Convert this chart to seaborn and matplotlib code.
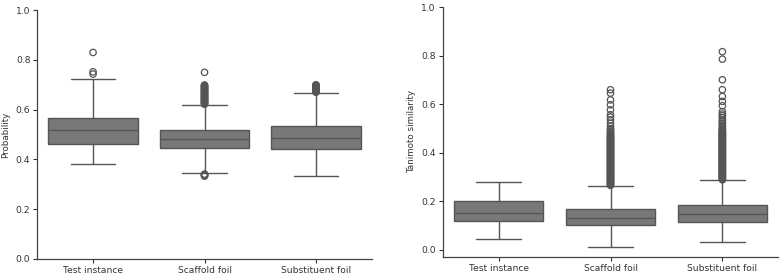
import pandas as pd
import matplotlib.pyplot as plt
import seaborn as sns

# categories
groups = ["Test instance", "Scaffold foil", "Substituent foil"]

# box values: lower whisker, Q1, median, Q3, upper whisker
prob_test = [0.380, 0.461, 0.517, 0.567, 0.722]
prob_scaffold = [0.345, 0.447, 0.482, 0.517, 0.618]
prob_subst = [0.335, 0.442, 0.485, 0.533, 0.667]

tani_test = [0.045, 0.118, 0.151, 0.202, 0.278]
tani_scaffold = [0.011, 0.101, 0.132, 0.167, 0.264]
tani_subst = [0.034, 0.115, 0.147, 0.184, 0.287]

# outliers (the dense columns are many overlapping points)
prob_test_out = [0.743, 0.752, 0.830]
prob_scaffold_out = [0.333, 0.335, 0.337, 0.339, 0.341,
                     0.622, 0.624, 0.627, 0.629, 0.632, 0.634, 0.637, 0.639,
                     0.642, 0.645, 0.647, 0.650, 0.652, 0.655, 0.658, 0.660,
                     0.663, 0.665, 0.668, 0.671, 0.673, 0.676, 0.679, 0.681,
                     0.684, 0.687, 0.689, 0.692, 0.694, 0.697, 0.699, 0.750]
prob_subst_out = [0.670, 0.672, 0.674, 0.676, 0.678, 0.680, 0.682, 0.684,
                  0.686, 0.688, 0.690, 0.692, 0.694, 0.696, 0.698, 0.700]

tani_test_out = []
tani_scaffold_out = [0.266, 0.269, 0.272, 0.275, 0.278, 0.281, 0.284, 0.287,
                     0.290, 0.293, 0.296, 0.299, 0.302, 0.305, 0.308, 0.311,
                     0.314, 0.317, 0.320, 0.323, 0.326, 0.329, 0.332, 0.335,
                     0.338, 0.341, 0.344, 0.347, 0.350, 0.353, 0.356, 0.359,
                     0.362, 0.365, 0.368, 0.371, 0.374, 0.377, 0.380, 0.383,
                     0.386, 0.389, 0.392, 0.395, 0.398, 0.401, 0.404, 0.407,
                     0.410, 0.413, 0.416, 0.419, 0.422, 0.425, 0.428, 0.431,
                     0.434, 0.437, 0.440, 0.443, 0.446, 0.449, 0.452, 0.455,
                     0.458, 0.461, 0.464, 0.467, 0.470, 0.474, 0.478, 0.482,
                     0.486, 0.490, 0.495, 0.500, 0.509, 0.522, 0.536, 0.547,
                     0.557, 0.577, 0.598, 0.618, 0.646, 0.660]
tani_subst_out = [0.289, 0.292, 0.295, 0.298, 0.301, 0.304, 0.307, 0.310,
                  0.313, 0.316, 0.319, 0.322, 0.325, 0.328, 0.331, 0.334,
                  0.337, 0.340, 0.343, 0.346, 0.349, 0.352, 0.355, 0.358,
                  0.361, 0.364, 0.367, 0.370, 0.373, 0.376, 0.379, 0.382,
                  0.385, 0.388, 0.391, 0.394, 0.397, 0.400, 0.403, 0.406,
                  0.409, 0.412, 0.415, 0.418, 0.421, 0.424, 0.427, 0.430,
                  0.433, 0.436, 0.439, 0.442, 0.445, 0.448, 0.451, 0.454,
                  0.457, 0.460, 0.463, 0.466, 0.469, 0.472, 0.475, 0.478,
                  0.481, 0.484, 0.487, 0.490, 0.494, 0.498, 0.503, 0.509,
                  0.515, 0.522, 0.529, 0.536, 0.545, 0.553, 0.560, 0.570,
                  0.594, 0.612, 0.632, 0.660, 0.701, 0.786, 0.817]


def long_df(lists):
    rows = []
    for g, vals in zip(groups, lists):
        rows += [(g, v) for v in vals]
    return pd.DataFrame(rows, columns=["group", "value"])


sns.set_theme(style="ticks")
plt.rcParams["font.family"] = ["DejaVu Sans"]

fig = plt.figure(figsize=(7.83, 2.79), dpi=100)
ax1 = fig.add_axes([0.0477, 0.0717, 0.427, 0.892])
ax2 = fig.add_axes([0.5654, 0.080, 0.4286, 0.894])

panels = [
    (ax1, [prob_test, prob_scaffold, prob_subst],
     [prob_test_out, prob_scaffold_out, prob_subst_out], "Probability", (0.0, 1.0)),
    (ax2, [tani_test, tani_scaffold, tani_subst],
     [tani_test_out, tani_scaffold_out, tani_subst_out], "Tanimoto similarity", (-0.028, 1.0)),
]

for ax, boxes, outs, ylabel, ylim in panels:
    sns.boxplot(data=long_df(boxes), x="group", y="value", order=groups, ax=ax,
                color="#787878", linecolor="#555555", linewidth=1.0,
                saturation=1, showfliers=False, width=0.8)
    sns.stripplot(data=long_df(outs), x="group", y="value", order=groups, ax=ax,
                  jitter=False, color="none", edgecolor="#555555",
                  linewidth=0.9, size=4.6)
    ax.set_ylim(*ylim)
    ax.set_yticks([0.0, 0.2, 0.4, 0.6, 0.8, 1.0])
    ax.set_xlabel("")
    ax.set_ylabel(ylabel, fontsize=6.3, color="#333333")
    ax.tick_params(labelsize=6.6, length=3, width=0.8, colors="#333333", pad=2)
    for s in ax.spines.values():
        s.set_color("#444444")
        s.set_linewidth(0.9)
    sns.despine(ax=ax)

fig.savefig("out.png", dpi=100)
